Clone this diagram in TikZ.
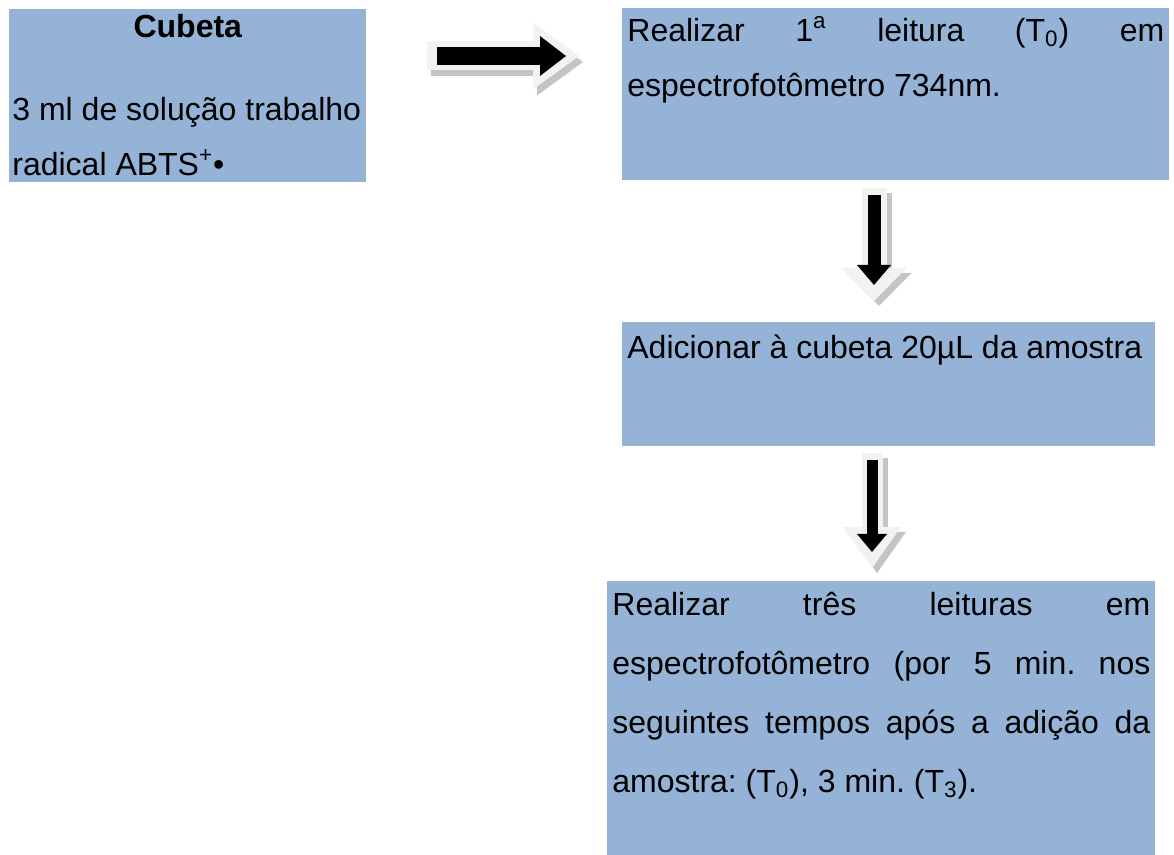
\documentclass[tikz,border=0pt]{standalone}
\usepackage{fontspec}
\setmainfont{Liberation Sans}
\usetikzlibrary{arrows.meta}
\definecolor{boxblue}{HTML}{95B3D7}
\definecolor{arrowlight}{HTML}{F2F2F2}
\definecolor{shadowgray}{HTML}{C4C4C4}
\tolerance=10000
\hyphenpenalty=10000
\frenchspacing

\begin{document}
\begin{tikzpicture}[x=0.5pt,y=-0.5pt,
    box/.style={fill=boxblue, anchor=north west, inner xsep=2.5pt, inner ysep=0pt,
      font=\fontsize{16}{27.5}\selectfont},
    outerarrow/.style={draw=arrowlight},
    blackarrow/.style={draw=black},
    shadowarrow/.style={draw=shadowgray}]
        \useasboundingbox (0,0) rectangle (1174,855);

        % Boxes.
        \node[box, inner xsep=1.5pt] (cubeta) at (9,9) {\parbox[t][86.5pt][t]{175.5pt}{\raggedright
            {\centering\rule{0pt}{14pt}\textbf{Cubeta}\par}
            \vspace{14pt}
            3 ml de solução trabalho\\
            radical ABTS\textsuperscript{+}•}};
        \node[box] (leitura) at (622,8) {\parbox[t][86pt][t]{268.5pt}{\rule{0pt}{16.5pt}Realizar
            1\textsuperscript{a} leitura (T\textsubscript{0}) em\linebreak
            espectrofotômetro 734nm.}};
        \node[box] (amostra) at (622,322) {\parbox[t][62pt][t]{261.5pt}{\rule{0pt}{18pt}Adicionar
            à cubeta 20µL da amostra}};
        \node[box, font=\fontsize{16}{29.5}\selectfont] (tres) at (607,581) {\parbox[t][137pt][t]{269pt}{\rule{0pt}{17pt}Realizar
            três leituras em\linebreak
            espectrofotômetro (por 5 min. nos\linebreak
            seguintes tempos após a adição da\linebreak
            amostra: (T\textsubscript{0}), 3 min. (T\textsubscript{3}).}};

        % Arrow from the cuvette to the first reading.
        \coordinate (h0) at (427,56);
        \coordinate (h1) at (579,56);
        \coordinate (g0) at (437,56);
        \coordinate (g1) at (566,56);
        \draw[shadowarrow, line width=14.5pt, -{Triangle[length=23pt,width=33.5pt,line width=0pt]}] ([shift={(4,6)}]h0) -- ([shift={(4,6)}]h1);
        \draw[outerarrow, line width=14.5pt, -{Triangle[length=23pt,width=33.5pt,line width=0pt]}] (h0) -- (h1);
        \draw[blackarrow, line width=9pt, -{Triangle[length=13pt,width=20pt,line width=0pt]}] (g0) -- (g1);

        % Arrow down to the sample.
        \coordinate (v0) at (874,188);
        \coordinate (v1) at (874,301);
        \coordinate (w0) at (874,195);
        \coordinate (w1) at (874,285);
        \draw[shadowarrow, line width=12.5pt, -{Triangle[length=16.5pt,width=32.5pt,line width=0pt]}] ([shift={(5,5)}]v0) -- ([shift={(5,5)}]v1);
        \draw[outerarrow, line width=12.5pt, -{Triangle[length=16.5pt,width=32.5pt,line width=0pt]}] (v0) -- (v1);
        \draw[blackarrow, line width=6.5pt, -{Triangle[length=10pt,width=17pt,line width=0pt]}] (w0) -- (w1);

        % Arrow down to the three readings.
        \coordinate (u0) at (872,453);
        \coordinate (u1) at (872,568);
        \coordinate (t0) at (872,460);
        \coordinate (t1) at (872,552);
        \draw[shadowarrow, line width=10.5pt, -{Triangle[length=20.5pt,width=29pt,line width=0pt]}] ([shift={(5,5)}]u0) -- ([shift={(5,5)}]u1);
        \draw[outerarrow, line width=10.5pt, -{Triangle[length=20.5pt,width=29pt,line width=0pt]}] (u0) -- (u1);
        \draw[blackarrow, line width=5.5pt, -{Triangle[length=9pt,width=15pt,line width=0pt]}] (t0) -- (t1);
\end{tikzpicture}
\end{document}
